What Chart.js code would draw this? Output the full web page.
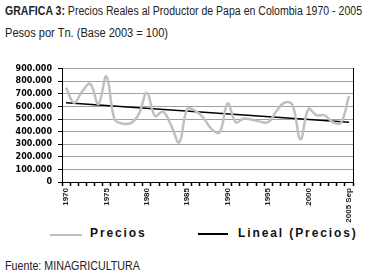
<!DOCTYPE html>
<html><head><meta charset="utf-8">
<script src="https://cdn.jsdelivr.net/npm/chart.js@4"></script>
<style>
body{margin:0;width:375px;height:279px;background:#fff;position:relative;overflow:hidden;font-family:'Liberation Sans',Arial,sans-serif;}
.t{position:absolute;left:5px;font-size:12.5px;color:#222;white-space:nowrap;transform-origin:0 0}
#t1{top:4px}
#t2{top:26px}
#src{top:259px}
#wrap{position:absolute;left:0;top:58px;width:362px;height:166px}
.leg{position:absolute;top:226px;font-family:'Liberation Sans',Arial,sans-serif;font-weight:bold;font-size:12px;letter-spacing:1.9px;color:#111;white-space:nowrap}
.ln{position:absolute;height:2px}
</style></head>
<body>
<div class="t" id="t1" data-w="357"><b>GRAFICA 3:</b> Precios Reales al Productor de Papa en Colombia 1970 - 2005</div>
<div class="t" id="t2" data-w="163">Pesos por Tn. (Base 2003 = 100)</div>
<div id="wrap"><canvas id="c" width="362" height="166"></canvas></div>
<div class="ln" style="left:50px;top:234px;width:32px;background:#c0c0c0"></div>
<div class="leg" style="left:90px">Precios</div>
<div class="ln" style="left:198px;top:233px;width:30px;background:#000;height:1.5px"></div>
<div class="leg" style="left:238px">Lineal (Precios)</div>
<div class="t" id="src" data-w="135">Fuente: MINAGRICULTURA</div>
<script>
const categories = ['1970','1971','1972','1973','1974','1975','1976','1977','1978','1979',
  '1980','1981','1982','1983','1984','1985','1986','1987','1988','1989',
  '1990','1991','1992','1993','1994','1995','1996','1997','1998','1999',
  '2000','2001','2002','2003','2004','2005 Sep'];
const precios = [750000,630000,720000,780000,620000,840000,500000,465000,468000,540000,
  710000,525000,560000,450000,315000,580000,566000,510000,420000,395000,
  625000,475000,505000,495000,480000,475000,560000,630000,615000,340000,
  580000,530000,530000,475000,470000,685000];
const lineal = [630000,null,null,null,null,null,null,null,null,null,
  null,null,null,null,null,null,null,null,null,null,
  null,null,null,null,null,null,null,null,null,null,
  null,null,null,null,null,475000];
const yTicks = [0,100000,200000,300000,400000,500000,600000,700000,800000,900000];

function fmt(v){ return v===0 ? '0' : String(v).replace(/\B(?=(\d{3})+(?!\d))/g,'.'); }

document.querySelectorAll('.t').forEach(el=>{
  const w = el.getBoundingClientRect().width;
  el.style.transform = 'scaleX(' + (Number(el.dataset.w)/w) + ')';
});

new Chart(document.getElementById('c'), {
  type: 'line',
  data: {
    labels: categories,
    datasets: [
      {label:'Precios', data: precios, borderColor:'#c0c0c0', borderWidth:2.5, pointRadius:0, tension:0.4, fill:false},
      {label:'Lineal (Precios)', data: lineal, borderColor:'#000', borderWidth:1.5, pointRadius:0, spanGaps:true, fill:false}
    ]
  },
  options: {
    responsive:false, animation:false, devicePixelRatio:1, events:[],
    layout:{padding:{top:10,right:8,left:0,bottom:0}},
    plugins:{legend:{display:false}, tooltip:{enabled:false}},
    scales:{
      x:{
        offset:true,
        grid:{offset:true, drawOnChartArea:false, tickLength:4, tickColor:'#000', tickWidth:1.5},
        border:{color:'#000', width:1},
        ticks:{autoSkip:false, maxRotation:90, minRotation:90, color:'#222', padding:2,
          font:{family:"'Liberation Sans',Arial,sans-serif", size:8, weight:'bold'},
          callback:(v,i)=> (i%5===0 || i===categories.length-1) ? categories[i] : ''},
        afterFit(s){ s.height = 42; }
      },
      y:{
        min:0, max:900000,
        afterBuildTicks(s){ s.ticks = yTicks.map(v=>({value:v})); },
        grid:{color:'#a0a0a0', tickColor:'#000', tickLength:4, lineWidth:1},
        border:{color:'#000', width:1},
        ticks:{autoSkip:false, color:'#000', padding:6, font:{family:"'DejaVu Sans',sans-serif", size:8, weight:'bold'}, callback:v=>fmt(v)},
        afterFit(s){ s.width = 62; }
      },
      y2:{
        position:'right', min:0, max:900000,
        grid:{display:false}, ticks:{display:false},
        border:{color:'#000', width:1},
        afterFit(s){ s.width = 1; }
      }
    }
  }
});
</script>
</body></html>
